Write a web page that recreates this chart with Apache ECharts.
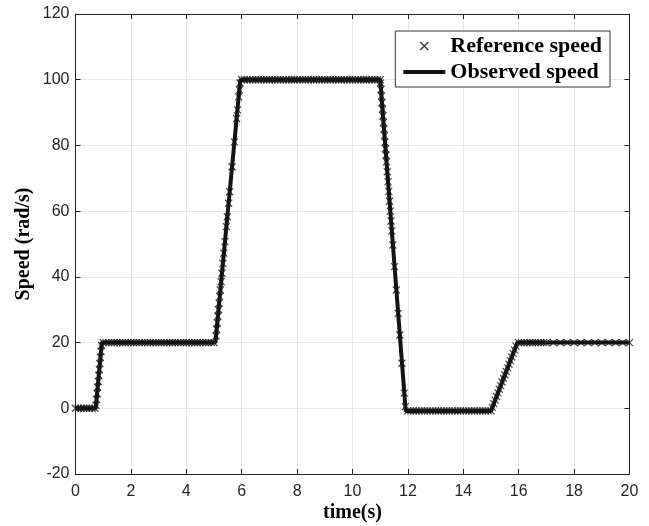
<!DOCTYPE html>
<html>
<head>
<meta charset="utf-8">
<script src="https://cdn.jsdelivr.net/npm/echarts@6/dist/echarts.min.js"></script>
<style>
  html, body { margin: 0; padding: 0; background: #fff; overflow: hidden; }
  #chart { width: 649px; height: 526px; }
</style>
</head>
<body>
<div id="chart"></div>
<script>
// Reference speed samples (s, rad/s)
const refTime = [
  0, 0.1, 0.2, 0.3, 0.4, 0.5, 0.6, 0.7,
  0.74, 0.76, 0.78, 0.80, 0.82, 0.84, 0.86, 0.88, 0.90, 0.92, 0.94,
  1.0, 1.1, 1.2, 1.3, 1.4, 1.5, 1.6, 1.7, 1.8, 1.9, 2.0, 2.1, 2.2, 2.3, 2.4, 2.5, 2.6, 2.7, 2.8, 2.9,
  3.0, 3.1, 3.2, 3.3, 3.4, 3.5, 3.6, 3.7, 3.8, 3.9, 4.0, 4.1, 4.2, 4.3, 4.4, 4.5, 4.6, 4.7, 4.8, 4.9, 5.0,
  5.072, 5.095, 5.117, 5.140, 5.162, 5.185, 5.207, 5.230, 5.258, 5.287, 5.321, 5.356, 5.395, 5.447,
  5.481, 5.527, 5.566, 5.652, 5.737, 5.817, 5.846, 5.891, 5.915, 5.939,
  6.0, 6.1, 6.2, 6.3, 6.4, 6.5, 6.6, 6.7, 6.8, 6.9, 7.0, 7.1, 7.2, 7.3, 7.4, 7.5, 7.6, 7.7, 7.8, 7.9,
  8.0, 8.1, 8.2, 8.3, 8.4, 8.5, 8.6, 8.7, 8.8, 8.9, 9.0, 9.1, 9.2, 9.3, 9.4, 9.5, 9.6, 9.7, 9.8, 9.9,
  10.0, 10.1, 10.2, 10.3, 10.4, 10.5, 10.6, 10.7, 10.8, 10.9, 11.0,
  11.009, 11.027, 11.046, 11.064, 11.082, 11.100, 11.118, 11.137, 11.155, 11.173, 11.191, 11.209,
  11.228, 11.255, 11.282, 11.310, 11.337, 11.364, 11.392, 11.419, 11.458, 11.518, 11.583, 11.648,
  11.708, 11.786, 11.869, 11.906,
  12.0, 12.1, 12.2, 12.3, 12.4, 12.5, 12.6, 12.7, 12.8, 12.9, 13.0, 13.1, 13.2, 13.3, 13.4, 13.5,
  13.6, 13.7, 13.8, 13.9, 14.0, 14.1, 14.2, 14.3, 14.4, 14.5, 14.6, 14.7, 14.8, 14.9, 15.0,
  15.05, 15.10, 15.15, 15.20, 15.25, 15.30, 15.35, 15.40, 15.45, 15.50, 15.55, 15.60, 15.65, 15.70,
  15.75, 15.80, 15.85, 15.90,
  16.0, 16.1, 16.2, 16.3, 16.4, 16.5, 16.6, 16.7, 16.8, 16.9,
  17.0, 17.25, 17.5, 17.75, 18.0, 18.25, 18.5, 18.75, 19.0, 19.25, 19.5, 19.75, 20.0
];
const refSpeed = [
  0, 0, 0, 0, 0, 0, 0, 0,
  0.9, 2.7, 4.5, 6.4, 8.2, 10, 11.8, 13.6, 15.5, 17.3, 19.1,
  20, 20, 20, 20, 20, 20, 20, 20, 20, 20, 20, 20, 20, 20, 20, 20, 20, 20, 20, 20,
  20, 20, 20, 20, 20, 20, 20, 20, 20, 20, 20, 20, 20, 20, 20, 20, 20, 20, 20, 20, 20,
  22, 24, 26, 28, 30, 32, 34, 36, 38.5, 41.1, 44.1, 47.2, 50.7, 55.3,
  58.3, 62.4, 65.9, 73.5, 81.1, 88.2, 90.8, 94.8, 96.9, 99,
  100, 100, 100, 100, 100, 100, 100, 100, 100, 100, 100, 100, 100, 100, 100, 100, 100, 100, 100, 100,
  100, 100, 100, 100, 100, 100, 100, 100, 100, 100, 100, 100, 100, 100, 100, 100, 100, 100, 100, 100,
  100, 100, 100, 100, 100, 100, 100, 100, 100, 100, 100,
  99, 97, 95, 93, 91, 89, 87, 85, 83, 81, 79, 77,
  75, 72, 69, 66, 63, 60, 57, 54, 49.7, 43.1, 36, 28.9,
  22.3, 13.7, 4.6, 0.5,
  -0.8, -0.8, -0.8, -0.8, -0.8, -0.8, -0.8, -0.8, -0.8, -0.8, -0.8, -0.8, -0.8, -0.8, -0.8, -0.8,
  -0.8, -0.8, -0.8, -0.8, -0.8, -0.8, -0.8, -0.8, -0.8, -0.8, -0.8, -0.8, -0.8, -0.8, -0.8,
  0.3, 1.4, 2.5, 3.6, 4.7, 5.8, 6.9, 8.0, 9.1, 10.2, 11.2, 12.3, 13.4, 14.5,
  15.6, 16.7, 17.8, 18.9,
  20, 20, 20, 20, 20, 20, 20, 20, 20, 20,
  20, 20, 20, 20, 20, 20, 20, 20, 20, 20, 20, 20, 20
];

// Observed speed breakpoints (s, rad/s)
const obsTime  = [0, 0.73, 0.95, 5.05, 5.95, 11.0, 11.92, 15.0, 15.95, 20];
const obsSpeed = [0, 0,    20,   20,   100,  100,  -0.8,  -0.8, 20,    20];

const xTicks = { min: 0, max: 20, interval: 2 };
const yTicks = { min: -20, max: 120, interval: 20 };

const crossSymbol = 'path://M0,0L10,10M10,0L0,10';
const barIcon = 'path://M0,0L42,0L42,4L0,4Z';

const tickFont = { fontFamily: 'Liberation Sans, Arial, sans-serif', fontSize: 16, color: '#262626' };
const titleFont = { fontFamily: 'Liberation Serif, Times New Roman, serif', fontWeight: 'bold', fontSize: 20, color: '#000' };
const legendFont = { fontFamily: 'Liberation Serif, Times New Roman, serif', fontWeight: 'bold', fontSize: 22, color: '#000' };

const gridLine = { show: true, lineStyle: { color: '#e8e8e8', width: 1 } };
const boxLine = { show: true, onZero: false, lineStyle: { color: '#262626', width: 1 } };
const innerTick = { show: true, inside: true, length: 5, lineStyle: { color: '#262626', width: 1 } };

const chart = echarts.init(document.getElementById('chart'), null, { renderer: 'canvas' });

chart.setOption({
  animation: false,
  backgroundColor: '#fff',
  grid: { left: 75.5, right: 19.5, top: 14, bottom: 52, containLabel: false, outerBoundsMode: 'none' },
  legend: {
    orient: 'vertical',
    right: 39,
    top: 31,
    itemWidth: 42,
    itemHeight: 8,
    itemGap: 4,
    padding: [4, 8, 4, 8],
    borderColor: '#333',
    borderWidth: 1,
    backgroundColor: '#fff',
    textStyle: legendFont,
    data: [
      { name: 'Reference speed', icon: crossSymbol, itemStyle: { color: 'none', borderColor: '#111', borderWidth: 1.5 } },
      { name: 'Observed speed', icon: barIcon, itemStyle: { color: '#111' } }
    ]
  },
  xAxis: [
    {
      type: 'value', ...xTicks,
      name: 'time(s)', nameLocation: 'middle', nameGap: 29, nameMoveOverlap: false, nameTextStyle: titleFont,
      axisLine: boxLine, axisTick: innerTick, splitLine: gridLine,
      axisLabel: { ...tickFont, margin: 10 }
    },
    {
      type: 'value', position: 'top', ...xTicks,
      axisLine: boxLine, axisTick: innerTick, splitLine: { show: false },
      axisLabel: { show: false }
    }
  ],
  yAxis: [
    {
      type: 'value', ...yTicks,
      name: 'Speed (rad/s)', nameLocation: 'middle', nameGap: 42, nameMoveOverlap: false, nameTextStyle: titleFont,
      axisLine: boxLine, axisTick: innerTick, splitLine: gridLine,
      axisLabel: { ...tickFont, margin: 6 }
    },
    {
      type: 'value', position: 'right', ...yTicks,
      axisLine: boxLine, axisTick: innerTick, splitLine: { show: false },
      axisLabel: { show: false }
    }
  ],
  series: [
    {
      name: 'Reference speed',
      type: 'scatter',
      symbol: crossSymbol,
      symbolSize: 7,
      itemStyle: { color: 'none', borderColor: '#1a1a1a', borderWidth: 1.2 },
      data: refTime.map((t, i) => [t, refSpeed[i]]),
      z: 3
    },
    {
      name: 'Observed speed',
      type: 'line',
      showSymbol: false,
      symbol: 'none',
      lineStyle: { color: '#141414', width: 4 },
      itemStyle: { color: '#141414' },
      data: obsTime.map((t, i) => [t, obsSpeed[i]]),
      z: 4
    }
  ]
});
</script>
</body>
</html>
